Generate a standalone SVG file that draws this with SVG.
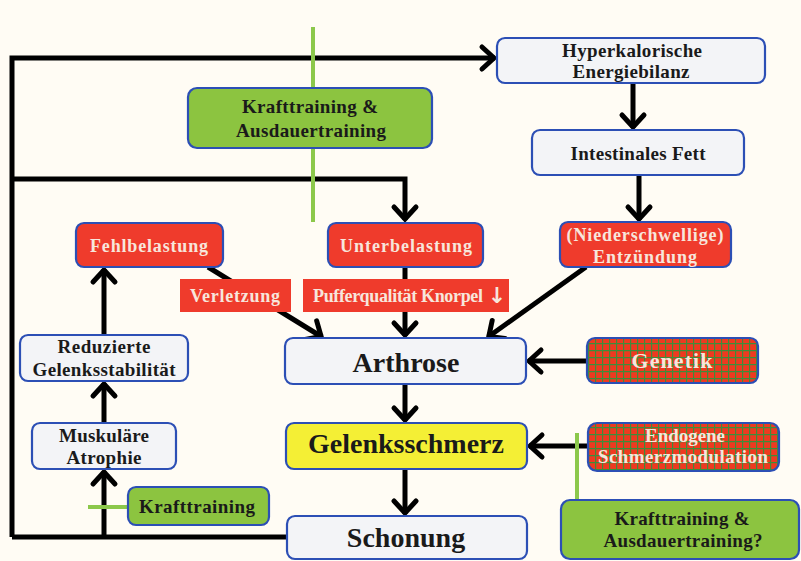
<svg xmlns="http://www.w3.org/2000/svg" width="801" height="561" viewBox="0 0 801 561">
<defs>
<style>
.bg{fill:#fffcf4}
.box{stroke:#2c4fb5;stroke-width:2.2}
.light{fill:#f3f4f7}
.green{fill:#8cc440}
.red{fill:#ef3b2c}
.yellow{fill:#f4ef35}
.lbl{fill:#ef3b2c}
.t{font-family:"Liberation Serif","Times New Roman",serif;font-weight:bold;text-anchor:middle;fill:#1a1a1a}
.s17{font-size:19px}
.s16{font-size:18px}
.s28{font-size:28px}
.w{fill:#f7e6dc}
.ln{stroke:#000;stroke-width:5;fill:none;stroke-linejoin:miter}
.gl{stroke:#8cc84b;stroke-width:4;fill:none}
</style>
<marker id="ah" markerUnits="userSpaceOnUse" viewBox="-16 -14 20 28" refX="0" refY="0" markerWidth="20" markerHeight="28" orient="auto" overflow="visible">
<path d="M-13,-11 L-1,0 L-13,11" fill="none" stroke="#000" stroke-width="5" stroke-linejoin="miter" stroke-linecap="round"/>
</marker>
<pattern id="grid" width="7" height="7" patternUnits="userSpaceOnUse">
<rect width="7" height="7" fill="#ee3a20"/>
<path d="M0,0.6 H7 M0.6,0 V7" stroke="#3f8c3a" stroke-width="1.2"/>
</pattern>
</defs>
<rect class="bg" x="0" y="0" width="801" height="561"/>

<g id="connectors">
<path class="ln" d="M12,537 V58 H495" marker-end="url(#ah)"/>
<path class="ln" d="M12,179 H405 V220" marker-end="url(#ah)"/>
<path class="ln" d="M287,537 H12"/>
<path class="ln" d="M104,537 V471" marker-end="url(#ah)"/>
<path class="ln" d="M104,423 V383" marker-end="url(#ah)"/>
<path class="ln" d="M104,335 V269" marker-end="url(#ah)"/>
<path class="ln" d="M633,83 V128" marker-end="url(#ah)"/>
<path class="ln" d="M639,175 V220" marker-end="url(#ah)"/>
<path class="ln" d="M208,267 L322,337" marker-end="url(#ah)"/>
<path class="ln" d="M405,267 V336" marker-end="url(#ah)"/>
<path class="ln" d="M586,267 L488,337" marker-end="url(#ah)"/>
<path class="ln" d="M587,361 H528" marker-end="url(#ah)"/>
<path class="ln" d="M405,384 V421" marker-end="url(#ah)"/>
<path class="ln" d="M405,469 V514" marker-end="url(#ah)"/>
<path class="ln" d="M588,446 H529" marker-end="url(#ah)"/>
<path class="gl" d="M313,27 V222"/>
<path class="gl" d="M577,433 V502"/>
<path class="gl" d="M88,507 H128"/>
</g>

<g id="kraft-ausdauer-top">
<rect class="box green" x="188" y="88" width="244" height="60" rx="9"/>
<text class="t s17" x="310" y="113" textLength="136" lengthAdjust="spacing">Krafttraining &amp;</text>
<text class="t s17" x="311" y="137" textLength="150" lengthAdjust="spacing">Ausdauertraining</text>
</g>

<g id="hyperkalorische">
<rect class="box light" x="497" y="38" width="268" height="45" rx="8"/>
<text class="t s17" x="632" y="57" textLength="140" lengthAdjust="spacing">Hyperkalorische</text>
<text class="t s17" x="631" y="78" textLength="117" lengthAdjust="spacing">Energiebilanz</text>
</g>

<g id="intestinales">
<rect class="box light" x="532" y="130" width="212" height="45" rx="8"/>
<text class="t s17" x="638" y="160" textLength="135" lengthAdjust="spacing">Intestinales Fett</text>
</g>

<g id="fehlbelastung">
<rect class="box red" x="76" y="223" width="147" height="44" rx="8"/>
<text class="t s16 w" x="149" y="252" textLength="118" lengthAdjust="spacing">Fehlbelastung</text>
</g>

<g id="unterbelastung">
<rect class="box red" x="328" y="223" width="155" height="44" rx="8"/>
<text class="t s16 w" x="406" y="252" textLength="132" lengthAdjust="spacing">Unterbelastung</text>
</g>

<g id="entzuendung">
<rect class="box red" x="560" y="222" width="171" height="45" rx="8"/>
<text class="t s16 w" x="645" y="241" textLength="157" lengthAdjust="spacing">(Niederschwellige)</text>
<text class="t s16 w" x="645" y="263" textLength="104" lengthAdjust="spacing">Entzündung</text>
</g>

<g id="verletzung">
<rect class="lbl" x="180" y="279" width="111" height="33"/>
<text class="t s16 w" x="235" y="302" textLength="90" lengthAdjust="spacing">Verletzung</text>
</g>

<g id="pufferqualitaet">
<rect class="lbl" x="303" y="279" width="206" height="33"/>
<text class="t s16 w" x="398" y="302" textLength="170" lengthAdjust="spacing">Pufferqualität Knorpel</text>
<text class="w" x="497" y="303" font-family="DejaVu Sans, sans-serif" font-weight="bold" font-size="22" text-anchor="middle">↓</text>
</g>

<g id="arthrose">
<rect class="box light" x="285" y="338" width="241" height="46" rx="8"/>
<text class="t s28" x="406" y="372">Arthrose</text>
</g>

<g id="genetik">
<rect class="box" fill="url(#grid)" x="587" y="338" width="171" height="45" rx="8"/>
<text class="t w" x="672" y="368" font-size="22" textLength="81" lengthAdjust="spacing">Genetik</text>
</g>

<g id="reduzierte">
<rect class="box light" x="20" y="335" width="168" height="46" rx="8"/>
<text class="t s17" x="104" y="353" textLength="93" lengthAdjust="spacing">Reduzierte</text>
<text class="t s17" x="104" y="376" textLength="143" lengthAdjust="spacing">Gelenksstabilität</text>
</g>

<g id="muskulaere">
<rect class="box light" x="32" y="423" width="144" height="46" rx="8"/>
<text class="t s17" x="104" y="442" textLength="90" lengthAdjust="spacing">Muskuläre</text>
<text class="t s17" x="104" y="464" textLength="75" lengthAdjust="spacing">Atrophie</text>
</g>

<g id="krafttraining-small">
<rect class="box green" x="128" y="487" width="141" height="38" rx="8"/>
<text class="t s17" x="197" y="513" textLength="116" lengthAdjust="spacing">Krafttraining</text>
</g>

<g id="gelenksschmerz">
<rect class="box yellow" x="286" y="423" width="241" height="46" rx="8"/>
<text class="t s28" x="406" y="453">Gelenksschmerz</text>
</g>

<g id="schonung">
<rect class="box light" x="287" y="516" width="240" height="43" rx="8"/>
<text class="t s28" x="406" y="547">Schonung</text>
</g>

<g id="endogene">
<rect class="box" fill="url(#grid)" x="588" y="423" width="191" height="48" rx="9"/>
<text class="t s17 w" x="685" y="442" textLength="80" lengthAdjust="spacing">Endogene</text>
<text class="t s17 w" x="683" y="463" textLength="170" lengthAdjust="spacing">Schmerzmodulation</text>
</g>

<g id="kraft-ausdauer-bottom">
<rect class="box green" x="561" y="500" width="238" height="59" rx="9"/>
<text class="t s17" x="682" y="525" textLength="135" lengthAdjust="spacing">Krafttraining &amp;</text>
<text class="t s17" x="683" y="547" textLength="159" lengthAdjust="spacing">Ausdauertraining?</text>
</g>
</svg>
